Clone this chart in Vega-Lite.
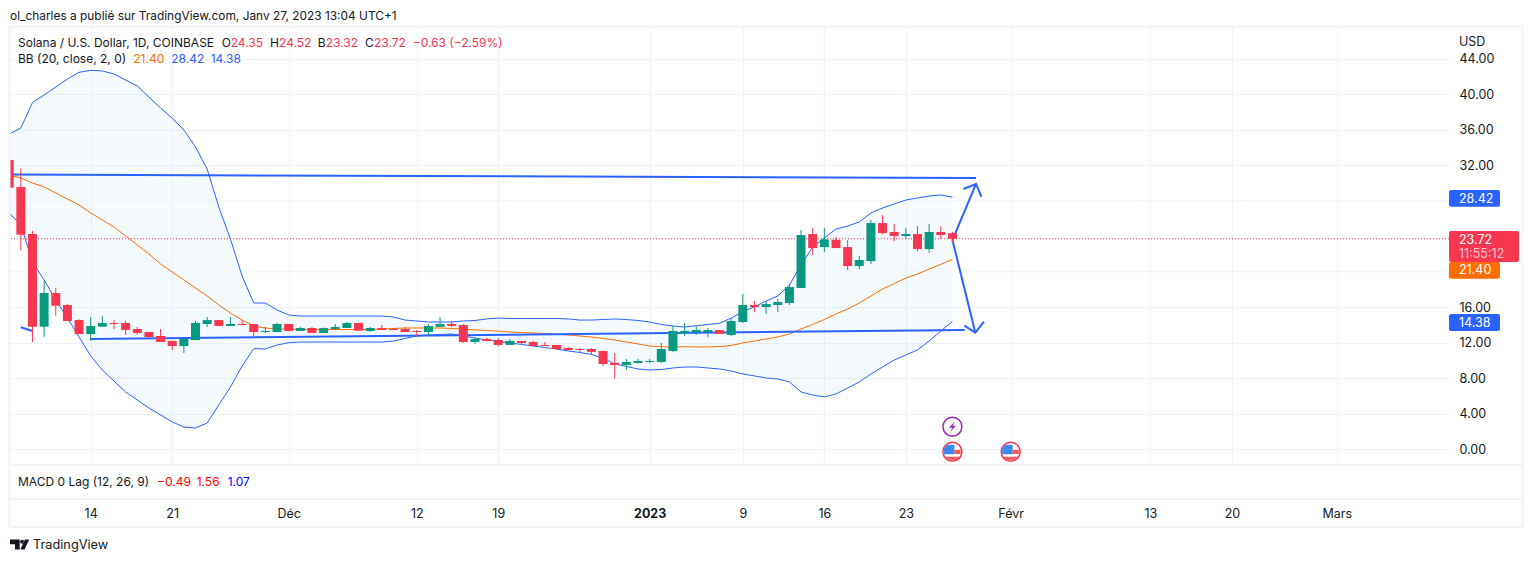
{"$schema":"https://vega.github.io/schema/vega-lite/v6.json","width":1439,"height":438,"autosize":"none","padding":{"left":10,"top":27,"right":84,"bottom":97},"background":"#ffffff",
"config":{"view":{"stroke":null},"text":{"font":"Inter","fontSize":12,"align":"left","baseline":"middle","color":"#131722"},"axis":{"labelFont":"Inter","labelFontSize":12.5,"labelColor":"#131722"}},
"datasets":{"d":[
{"date":"2022-11-07","open":32.6,"high":32.6,"low":29.48,"close":29.48,"upper":35.54,"basis":30.91,"lower":26.63},
{"date":"2022-11-08","open":29.56,"high":31.66,"low":22.45,"close":24.18,"upper":36.22,"basis":30.57,"lower":25.27},
{"date":"2022-11-09","open":24.25,"high":24.59,"low":12.07,"close":13.8,"upper":39.08,"basis":30.01,"lower":21.1},
{"date":"2022-11-10","open":13.8,"high":18.99,"low":12.67,"close":17.6,"upper":39.94,"basis":29.56,"lower":19.07},
{"date":"2022-11-11","open":17.6,"high":18.16,"low":15.04,"close":16.17,"upper":40.84,"basis":28.88,"lower":16.81},
{"date":"2022-11-12","open":16.25,"high":16.36,"low":14.44,"close":14.44,"upper":41.74,"basis":28.21,"lower":14.78},
{"date":"2022-11-13","open":14.55,"high":14.63,"low":12.97,"close":12.97,"upper":42.5,"basis":27.53,"lower":12.64},
{"date":"2022-11-14","open":12.97,"high":14.89,"low":12.19,"close":13.88,"upper":42.72,"basis":26.63,"lower":10.49},
{"date":"2022-11-15","open":13.8,"high":15.0,"low":13.8,"close":14.22,"upper":42.65,"basis":25.84,"lower":8.91},
{"date":"2022-11-16","open":14.22,"high":14.55,"low":13.54,"close":14.1,"upper":42.31,"basis":25.05,"lower":7.67},
{"date":"2022-11-17","open":14.22,"high":14.44,"low":12.86,"close":13.43,"upper":41.63,"basis":24.03,"lower":6.43},
{"date":"2022-11-18","open":13.54,"high":13.76,"low":12.86,"close":13.09,"upper":40.95,"basis":23.02,"lower":5.53},
{"date":"2022-11-19","open":13.2,"high":13.2,"low":12.56,"close":12.64,"upper":39.71,"basis":22.0,"lower":4.63},
{"date":"2022-11-20","open":12.75,"high":13.54,"low":12.07,"close":12.07,"upper":38.47,"basis":20.87,"lower":3.84},
{"date":"2022-11-21","open":12.19,"high":12.19,"low":11.17,"close":11.62,"upper":37.34,"basis":19.97,"lower":3.05},
{"date":"2022-11-22","open":11.62,"high":12.41,"low":10.83,"close":12.41,"upper":35.99,"basis":19.07,"lower":2.48},
{"date":"2022-11-23","open":12.3,"high":14.44,"low":12.3,"close":14.22,"upper":34.07,"basis":18.16,"lower":2.37},
{"date":"2022-11-24","open":14.1,"high":14.89,"low":13.76,"close":14.55,"upper":31.59,"basis":17.26,"lower":2.93},
{"date":"2022-11-25","open":14.55,"high":14.55,"low":13.88,"close":13.88,"upper":27.3,"basis":16.25,"lower":4.96},
{"date":"2022-11-26","open":13.88,"high":14.89,"low":13.88,"close":14.1,"upper":23.69,"basis":15.34,"lower":6.99},
{"date":"2022-11-27","open":14.1,"high":14.55,"low":13.99,"close":13.99,"upper":19.52,"basis":14.55,"lower":9.36},
{"date":"2022-11-28","open":14.1,"high":14.1,"low":12.75,"close":13.2,"upper":16.47,"basis":13.88,"lower":11.32},
{"date":"2022-11-29","open":13.2,"high":13.76,"low":13.09,"close":13.31,"upper":16.47,"basis":13.65,"lower":11.28},
{"date":"2022-11-30","open":13.2,"high":14.22,"low":13.2,"close":14.1,"upper":15.68,"basis":13.54,"lower":11.73},
{"date":"2022-12-01","open":14.1,"high":14.1,"low":13.31,"close":13.31,"upper":15.12,"basis":13.54,"lower":11.99},
{"date":"2022-12-02","open":13.31,"high":13.76,"low":13.31,"close":13.65,"upper":15.0,"basis":13.48,"lower":12.07},
{"date":"2022-12-03","open":13.65,"high":13.76,"low":13.09,"close":13.09,"upper":15.0,"basis":13.48,"lower":12.07},
{"date":"2022-12-04","open":13.09,"high":13.7,"low":13.05,"close":13.65,"upper":15.0,"basis":13.48,"lower":12.07},
{"date":"2022-12-05","open":13.54,"high":14.1,"low":13.43,"close":13.76,"upper":15.0,"basis":13.48,"lower":12.07},
{"date":"2022-12-06","open":13.65,"high":14.33,"low":13.65,"close":14.22,"upper":15.0,"basis":13.48,"lower":12.07},
{"date":"2022-12-07","open":14.22,"high":14.22,"low":13.35,"close":13.35,"upper":15.0,"basis":13.48,"lower":12.07},
{"date":"2022-12-08","open":13.31,"high":13.77,"low":13.2,"close":13.65,"upper":15.0,"basis":13.48,"lower":12.07},
{"date":"2022-12-09","open":13.65,"high":13.99,"low":13.43,"close":13.43,"upper":15.0,"basis":13.54,"lower":12.07},
{"date":"2022-12-10","open":13.54,"high":13.65,"low":13.43,"close":13.43,"upper":14.89,"basis":13.6,"lower":12.18},
{"date":"2022-12-11","open":13.54,"high":13.77,"low":13.2,"close":13.2,"upper":14.55,"basis":13.65,"lower":12.47},
{"date":"2022-12-12","open":13.31,"high":13.43,"low":12.75,"close":13.2,"upper":14.44,"basis":13.65,"lower":12.75},
{"date":"2022-12-13","open":13.2,"high":14.1,"low":12.75,"close":13.88,"upper":14.33,"basis":13.65,"lower":12.86},
{"date":"2022-12-14","open":13.77,"high":14.89,"low":13.77,"close":14.1,"upper":14.33,"basis":13.65,"lower":12.92},
{"date":"2022-12-15","open":14.1,"high":14.44,"low":13.77,"close":13.88,"upper":14.33,"basis":13.6,"lower":12.97},
{"date":"2022-12-16","open":13.99,"high":14.1,"low":11.96,"close":12.07,"upper":14.44,"basis":13.54,"lower":12.75},
{"date":"2022-12-17","open":12.07,"high":12.53,"low":11.85,"close":12.41,"upper":14.5,"basis":13.43,"lower":12.52},
{"date":"2022-12-18","open":12.41,"high":12.53,"low":12.19,"close":12.19,"upper":14.67,"basis":13.37,"lower":12.3},
{"date":"2022-12-19","open":12.3,"high":12.53,"low":11.62,"close":11.74,"upper":14.78,"basis":13.31,"lower":12.11},
{"date":"2022-12-20","open":11.74,"high":12.41,"low":11.74,"close":12.19,"upper":14.72,"basis":13.2,"lower":11.96},
{"date":"2022-12-21","open":12.19,"high":12.19,"low":11.85,"close":11.96,"upper":14.72,"basis":13.14,"lower":11.79},
{"date":"2022-12-22","open":12.07,"high":12.19,"low":11.62,"close":11.62,"upper":14.72,"basis":13.09,"lower":11.62},
{"date":"2022-12-23","open":11.74,"high":12.07,"low":11.62,"close":11.62,"upper":14.72,"basis":13.03,"lower":11.45},
{"date":"2022-12-24","open":11.74,"high":11.74,"low":11.17,"close":11.28,"upper":14.72,"basis":12.97,"lower":11.28},
{"date":"2022-12-25","open":11.4,"high":11.51,"low":11.17,"close":11.17,"upper":14.67,"basis":12.86,"lower":11.06},
{"date":"2022-12-26","open":11.28,"high":11.4,"low":10.95,"close":11.17,"upper":14.55,"basis":12.75,"lower":10.89},
{"date":"2022-12-27","open":11.28,"high":11.4,"low":10.61,"close":10.95,"upper":14.55,"basis":12.64,"lower":10.66},
{"date":"2022-12-28","open":11.06,"high":11.06,"low":9.37,"close":9.59,"upper":14.61,"basis":12.47,"lower":10.27},
{"date":"2022-12-29","open":9.71,"high":10.83,"low":7.9,"close":9.48,"upper":14.67,"basis":12.3,"lower":9.59},
{"date":"2022-12-30","open":9.48,"high":10.16,"low":8.92,"close":9.82,"upper":14.61,"basis":12.07,"lower":9.31},
{"date":"2022-12-31","open":9.71,"high":10.16,"low":9.59,"close":9.93,"upper":14.5,"basis":11.85,"lower":9.03},
{"date":"2023-01-01","open":9.82,"high":10.16,"low":9.71,"close":9.93,"upper":14.33,"basis":11.62,"lower":8.91},
{"date":"2023-01-02","open":9.82,"high":11.96,"low":9.71,"close":11.28,"upper":14.05,"basis":11.54,"lower":8.97},
{"date":"2023-01-03","open":11.05,"high":13.88,"low":10.95,"close":13.31,"upper":13.88,"basis":11.51,"lower":9.14},
{"date":"2023-01-04","open":13.08,"high":14.21,"low":12.75,"close":13.31,"upper":13.76,"basis":11.54,"lower":9.25},
{"date":"2023-01-05","open":13.2,"high":13.87,"low":12.86,"close":13.42,"upper":13.91,"basis":11.51,"lower":9.25},
{"date":"2023-01-06","open":13.2,"high":13.65,"low":12.63,"close":13.42,"upper":14.05,"basis":11.51,"lower":9.14},
{"date":"2023-01-07","open":13.42,"high":13.42,"low":12.97,"close":12.97,"upper":14.18,"basis":11.56,"lower":9.03},
{"date":"2023-01-08","open":12.86,"high":14.78,"low":12.75,"close":14.44,"upper":14.78,"basis":11.68,"lower":8.8},
{"date":"2023-01-09","open":14.33,"high":17.48,"low":14.21,"close":16.24,"upper":15.49,"basis":11.96,"lower":8.46},
{"date":"2023-01-10","open":16.24,"high":16.69,"low":15.45,"close":16.02,"upper":16.05,"basis":12.18,"lower":8.24},
{"date":"2023-01-11","open":16.02,"high":16.69,"low":15.23,"close":16.35,"upper":16.7,"basis":12.41,"lower":8.01},
{"date":"2023-01-12","open":16.24,"high":16.92,"low":15.45,"close":16.58,"upper":17.26,"basis":12.64,"lower":7.9},
{"date":"2023-01-13","open":16.47,"high":18.61,"low":16.24,"close":18.27,"upper":18.5,"basis":12.97,"lower":7.56},
{"date":"2023-01-14","open":18.16,"high":24.7,"low":18.16,"close":24.14,"upper":20.76,"basis":13.54,"lower":6.43},
{"date":"2023-01-15","open":24.25,"high":24.93,"low":21.88,"close":22.67,"upper":22.79,"basis":14.05,"lower":6.09},
{"date":"2023-01-16","open":22.78,"high":24.93,"low":22.22,"close":23.65,"upper":23.81,"basis":14.61,"lower":5.87},
{"date":"2023-01-17","open":23.61,"high":23.91,"low":22.67,"close":22.67,"upper":24.82,"basis":15.23,"lower":6.21},
{"date":"2023-01-18","open":22.78,"high":23.57,"low":20.19,"close":20.64,"upper":25.16,"basis":15.79,"lower":6.88},
{"date":"2023-01-19","open":20.64,"high":21.77,"low":20.3,"close":21.32,"upper":25.61,"basis":16.47,"lower":7.56},
{"date":"2023-01-20","open":21.2,"high":25.83,"low":20.87,"close":25.49,"upper":26.63,"basis":17.26,"lower":8.46},
{"date":"2023-01-21","open":25.49,"high":26.39,"low":24.25,"close":24.36,"upper":27.19,"basis":18.05,"lower":9.25},
{"date":"2023-01-22","open":24.48,"high":25.38,"low":23.46,"close":24.03,"upper":27.64,"basis":18.67,"lower":10.04},
{"date":"2023-01-23","open":24.03,"high":24.93,"low":23.69,"close":24.25,"upper":28.09,"basis":19.29,"lower":10.61},
{"date":"2023-01-24","open":24.25,"high":25.15,"low":22.33,"close":22.56,"upper":28.32,"basis":19.74,"lower":11.17},
{"date":"2023-01-25","open":22.56,"high":25.38,"low":22.11,"close":24.48,"upper":28.54,"basis":20.31,"lower":12.18},
{"date":"2023-01-26","open":24.48,"high":25.15,"low":23.69,"close":24.14,"upper":28.66,"basis":20.82,"lower":13.31},
{"date":"2023-01-27","open":24.35,"high":24.52,"low":23.32,"close":23.72,"upper":28.42,"basis":21.4,"lower":14.38}
],
"drawings":[
{"id":"resistance","i":0,"date":"2022-11-07T02:00:00Z","price":30.96},{"id":"resistance","i":1,"date":"2023-01-29T00:40:00Z","price":30.57},
{"id":"support","i":0,"date":"2022-11-14T00:00:00Z","price":12.41},{"id":"support","i":1,"date":"2023-01-28T01:25:00Z","price":13.43},
{"id":"stub","i":0,"date":"2022-11-08T00:00:00Z","price":13.73},{"id":"stub","i":1,"date":"2022-11-09T00:00:00Z","price":13.31},
{"id":"upShaft","i":0,"date":"2023-01-27T00:00:00Z","price":23.58},{"id":"upShaft","i":1,"date":"2023-01-29T00:40:00Z","price":29.9},
{"id":"upHead","i":0,"date":"2023-01-27T22:30:00Z","price":29.33},{"id":"upHead","i":1,"date":"2023-01-29T00:40:00Z","price":29.9},{"id":"upHead","i":2,"date":"2023-01-29T11:45:00Z","price":28.46},
{"id":"downShaft","i":0,"date":"2023-01-27T00:00:00Z","price":23.58},{"id":"downShaft","i":1,"date":"2023-01-28T23:15:00Z","price":13.12},
{"id":"downHead","i":0,"date":"2023-01-28T00:30:00Z","price":13.91},{"id":"downHead","i":1,"date":"2023-01-28T23:15:00Z","price":13.12},{"id":"downHead","i":2,"date":"2023-01-29T17:00:00Z","price":14.36}
]},
"layer":[
{"data":{"name":"d"},"mark":{"type":"area","color":"#2196f3","opacity":0.05,"clip":true},"encoding":{
 "x":{"field":"date","type":"temporal","title":null,"scale":{"type":"utc","domain":[1667785247000,1678461897000],"nice":false,"padding":0},
  "axis":{"title":null,"orient":"bottom","offset":34,"domain":false,"ticks":false,"grid":true,"gridColor":"#f0f3fa","gridWidth":1,"labelPadding":14,"labelBaseline":"middle","labelOverlap":false,"labelFlush":false,"labelBound":false,
   "values":[1668384000000,1668988800000,1669852800000,1670803200000,1671408000000,1672531200000,1673222400000,1673827200000,1674432000000,1675209600000,1676246400000,1676851200000,1677628800000],
   "labelExpr":"utcdate(datum.value)!=1?utcFormat(datum.value,'%-d'):utcmonth(datum.value)==11?'Déc':utcmonth(datum.value)==0?'2023':utcmonth(datum.value)==1?'Févr':'Mars'",
   "labelFontWeight":{"condition":{"test":"utcmonth(datum.value)==0&&utcdate(datum.value)==1","value":"bold"},"value":"normal"}}},
 "y":{"field":"upper","type":"quantitative","title":null,"scale":{"domain":[-1.805,47.61],"nice":false,"zero":false},
  "axis":{"title":null,"orient":"right","domain":false,"ticks":false,"grid":true,"gridColor":"#f0f3fa","gridWidth":1,"labelPadding":10,"labelAlign":"left","labelOverlap":false,"labelBound":false,"labelFlush":false,
   "values":[0,4,8,12,16,32,36,40,44],"format":".2f"}},
 "y2":{"field":"lower"}}},
{"data":{"values":[{"v":20},{"v":24},{"v":28}]},"mark":{"type":"rule","color":"#f0f3fa","strokeWidth":1},"encoding":{"y":{"field":"v","type":"quantitative"}}},
{"data":{"name":"d"},"mark":{"type":"line","color":"#2962ff","strokeWidth":1,"clip":true},"encoding":{"x":{"field":"date","type":"temporal"},"y":{"field":"upper","type":"quantitative"}}},
{"data":{"name":"d"},"mark":{"type":"line","color":"#2962ff","strokeWidth":1,"clip":true},"encoding":{"x":{"field":"date","type":"temporal"},"y":{"field":"lower","type":"quantitative"}}},
{"data":{"name":"d"},"mark":{"type":"line","color":"#ff6d00","strokeWidth":1,"clip":true},"encoding":{"x":{"field":"date","type":"temporal"},"y":{"field":"basis","type":"quantitative"}}},
{"data":{"values":[{"price":23.72}]},"mark":{"type":"rule","color":"#f7374f","strokeWidth":1,"strokeDash":[1,2]},"encoding":{"y":{"field":"price","type":"quantitative"}}},
{"data":{"name":"drawings"},"mark":{"type":"line","color":"#2962ff","strokeWidth":2,"clip":true},"encoding":{"x":{"field":"date","type":"temporal"},"y":{"field":"price","type":"quantitative"},"detail":{"field":"id"},"order":{"field":"i","type":"quantitative"}}},
{"data":{"name":"d"},"mark":{"type":"rule","strokeWidth":1,"clip":true},"encoding":{"x":{"field":"date","type":"temporal"},"y":{"field":"low","type":"quantitative"},"y2":{"field":"high"},"color":{"condition":{"test":"datum.close>=datum.open","value":"#089981"},"value":"#f7374f"}}},
{"data":{"name":"d"},"mark":{"type":"bar","size":9,"clip":true},"encoding":{"x":{"field":"date","type":"temporal"},"y":{"field":"open","type":"quantitative"},"y2":{"field":"close"},"color":{"condition":{"test":"datum.close>=datum.open","value":"#089981"},"value":"#f7374f"}}},

{"data":{"values":[{"date":"2023-01-27"}]},"mark":{"type":"point","shape":"circle","filled":true,"fill":"#ffffff","stroke":"#9c27b0","strokeWidth":1.5,"size":361,"opacity":1},"encoding":{"x":{"field":"date","type":"temporal"},"y":{"datum":2.52}}},
{"data":{"values":[{"date":"2023-01-27"}]},"mark":{"type":"point","shape":"M0.25,-0.55L-0.35,0.1H-0.02L-0.25,0.55L0.35,-0.1H0.02Z","filled":true,"color":"#9c27b0","size":400,"opacity":1},"encoding":{"x":{"field":"date","type":"temporal"},"y":{"datum":2.52}}},
{"data":{"values":[{"date":"2023-01-27"},{"date":"2023-02-01"}]},"mark":{"type":"point","shape":"circle","filled":true,"fill":"#ffffff","stroke":"#f7374f","strokeWidth":1.5,"size":361,"opacity":1},"encoding":{"x":{"field":"date","type":"temporal"},"y":{"datum":-0.3}}},
{"data":{"values":[{"date":"2023-01-27"},{"date":"2023-02-01"}]},"mark":{"type":"point","shape":"M-0.55,-0.7H0.2V0.27H-0.85V-0.3Z","filled":true,"color":"#3d8bf0","size":400,"opacity":1},"encoding":{"x":{"field":"date","type":"temporal"},"y":{"datum":-0.3}}},
{"data":{"values":[{"date":"2023-01-27"},{"date":"2023-02-01"}]},"mark":{"type":"point","shape":"M0.2,-0.2H0.82V0.23H0.2ZM-0.72,0.5H0.72L0.45,0.8H-0.45Z","filled":true,"color":"#f7585f","size":400,"opacity":1},"encoding":{"x":{"field":"date","type":"temporal"},"y":{"datum":-0.3}}},

{"data":{"values":[{}]},"mark":{"type":"rect","fill":null,"stroke":"#f0f3fa","strokeWidth":2},"encoding":{"x":{"datum":1667781537000,"type":"temporal"},"x2":{"datum":1679007230000},"y":{"datum":47.67},"y2":{"datum":-8.8}}},
{"data":{"values":[{}]},"mark":{"type":"rule","color":"#e6e8f0","strokeWidth":1},"encoding":{"x":{"datum":1667781537000,"type":"temporal"},"x2":{"datum":1679007230000},"y":{"datum":-1.805}}},
{"data":{"values":[{}]},"mark":{"type":"rule","color":"#e6e8f0","strokeWidth":1},"encoding":{"x":{"datum":1667781537000,"type":"temporal"},"x2":{"datum":1679007230000},"y":{"datum":-5.64}}},

{"data":{"values":[{}]},"mark":{"type":"rect","color":"#2962ff","cornerRadius":2,"opacity":1},"encoding":{"x":{"datum":1678461897000,"type":"temporal"},"x2":{"datum":1678840291000},"y":{"datum":29.22},"y2":{"datum":27.34}}},
{"data":{"values":[{}]},"mark":{"type":"rect","color":"#f7374f","cornerRadius":2,"opacity":1},"encoding":{"x":{"datum":1678461897000,"type":"temporal"},"x2":{"datum":1678981262000},"y":{"datum":24.59},"y2":{"datum":21.1}}},
{"data":{"values":[{}]},"mark":{"type":"rect","color":"#ff6d00","cornerRadius":2,"opacity":1},"encoding":{"x":{"datum":1678461897000,"type":"temporal"},"x2":{"datum":1678840291000},"y":{"datum":21.1},"y2":{"datum":19.21}}},
{"data":{"values":[{}]},"mark":{"type":"rect","color":"#2962ff","cornerRadius":2,"opacity":1},"encoding":{"x":{"datum":1678461897000,"type":"temporal"},"x2":{"datum":1678840291000},"y":{"datum":15.23},"y2":{"datum":13.31}}},

{"data":{"values":[{"t":"28.42"}]},"mark":{"type":"text","color":"#ffffff","fontSize":12.5},"encoding":{"x":{"datum":1678536092000,"type":"temporal"},"y":{"datum":28.26},"text":{"field":"t"}}},
{"data":{"values":[{"t":"23.72"}]},"mark":{"type":"text","color":"#ffffff","fontSize":12.5},"encoding":{"x":{"datum":1678536092000,"type":"temporal"},"y":{"datum":23.53},"text":{"field":"t"}}},
{"data":{"values":[{"t":"11:55:12"}]},"mark":{"type":"text","color":"#fbc3ca","fontSize":12.5},"encoding":{"x":{"datum":1678536092000,"type":"temporal"},"y":{"datum":22.03},"text":{"field":"t"}}},
{"data":{"values":[{"t":"21.40"}]},"mark":{"type":"text","color":"#ffffff","fontSize":12.5},"encoding":{"x":{"datum":1678536092000,"type":"temporal"},"y":{"datum":20.19},"text":{"field":"t"}}},
{"data":{"values":[{"t":"14.38"}]},"mark":{"type":"text","color":"#ffffff","fontSize":12.5},"encoding":{"x":{"datum":1678536092000,"type":"temporal"},"y":{"datum":14.25},"text":{"field":"t"}}},
{"data":{"values":[{"t":"USD"}]},"mark":{"type":"text","fontSize":12.5},"encoding":{"x":{"datum":1678536092000,"type":"temporal"},"y":{"datum":45.97},"text":{"field":"t"}}},

{"data":{"values":[{"t":"ol_charles a publié sur TradingView.com, Janv 27, 2023 13:04 UTC+1"}]},"mark":{"type":"text","fontSize":11.9},"encoding":{"x":{"datum":1667785247000,"type":"temporal"},"y":{"datum":48.85},"text":{"field":"t"}}},
{"data":{"values":[{"t":"Solana / U.S. Dollar, 1D, COINBASE"}]},"mark":{"type":"text"},"encoding":{"x":{"datum":1667844603000,"type":"temporal"},"y":{"datum":45.8},"text":{"field":"t"}}},
{"data":{"values":[{"t":"O"}]},"mark":{"type":"text"},"encoding":{"x":{"datum":1669355954000,"type":"temporal"},"y":{"datum":45.8},"text":{"field":"t"}}},
{"data":{"values":[{"t":"24.35"}]},"mark":{"type":"text","color":"#f7374f"},"encoding":{"x":{"datum":1669422729000,"type":"temporal"},"y":{"datum":45.8},"text":{"field":"t"}}},
{"data":{"values":[{"t":"H"}]},"mark":{"type":"text"},"encoding":{"x":{"datum":1669714315000,"type":"temporal"},"y":{"datum":45.8},"text":{"field":"t"}}},
{"data":{"values":[{"t":"24.52"}]},"mark":{"type":"text","color":"#f7374f"},"encoding":{"x":{"datum":1669781091000,"type":"temporal"},"y":{"datum":45.8},"text":{"field":"t"}}},
{"data":{"values":[{"t":"B"}]},"mark":{"type":"text"},"encoding":{"x":{"datum":1670068225000,"type":"temporal"},"y":{"datum":45.8},"text":{"field":"t"}}},
{"data":{"values":[{"t":"23.32"}]},"mark":{"type":"text","color":"#f7374f"},"encoding":{"x":{"datum":1670127581000,"type":"temporal"},"y":{"datum":45.8},"text":{"field":"t"}}},
{"data":{"values":[{"t":"C"}]},"mark":{"type":"text"},"encoding":{"x":{"datum":1670419167000,"type":"temporal"},"y":{"datum":45.8},"text":{"field":"t"}}},
{"data":{"values":[{"t":"23.72"}]},"mark":{"type":"text","color":"#f7374f"},"encoding":{"x":{"datum":1670485942000,"type":"temporal"},"y":{"datum":45.8},"text":{"field":"t"}}},
{"data":{"values":[{"t":"−0.63 (−2.59%)"}]},"mark":{"type":"text","color":"#f7374f"},"encoding":{"x":{"datum":1670773077000,"type":"temporal"},"y":{"datum":45.8},"text":{"field":"t"}}},
{"data":{"values":[{"t":"BB (20, close, 2, 0)"}]},"mark":{"type":"text"},"encoding":{"x":{"datum":1667844603000,"type":"temporal"},"y":{"datum":44.0},"text":{"field":"t"}}},
{"data":{"values":[{"t":"21.40"}]},"mark":{"type":"text","color":"#ff6d00"},"encoding":{"x":{"datum":1668700070000,"type":"temporal"},"y":{"datum":44.0},"text":{"field":"t"}}},
{"data":{"values":[{"t":"28.42"}]},"mark":{"type":"text","color":"#2962ff"},"encoding":{"x":{"datum":1668982011000,"type":"temporal"},"y":{"datum":44.0},"text":{"field":"t"}}},
{"data":{"values":[{"t":"14.38"}]},"mark":{"type":"text","color":"#2962ff"},"encoding":{"x":{"datum":1669274339000,"type":"temporal"},"y":{"datum":44.0},"text":{"field":"t"}}},
{"data":{"values":[{"t":"MACD 0 Lag (12, 26, 9)"}]},"mark":{"type":"text"},"encoding":{"x":{"datum":1667844603000,"type":"temporal"},"y":{"datum":-3.67},"text":{"field":"t"}}},
{"data":{"values":[{"t":"−0.49"}]},"mark":{"type":"text","color":"#ff0000"},"encoding":{"x":{"datum":1668875912000,"type":"temporal"},"y":{"datum":-3.67},"text":{"field":"t"}}},
{"data":{"values":[{"t":"1.56"}]},"mark":{"type":"text","color":"#ff0000"},"encoding":{"x":{"datum":1669170466000,"type":"temporal"},"y":{"datum":-3.67},"text":{"field":"t"}}},
{"data":{"values":[{"t":"1.07"}]},"mark":{"type":"text","color":"#0000ff"},"encoding":{"x":{"datum":1669400471000,"type":"temporal"},"y":{"datum":-3.67},"text":{"field":"t"}}},
{"data":{"values":[{"t":"TradingView"}]},"mark":{"type":"text","fontSize":12.75},"encoding":{"x":{"datum":1667955895000,"type":"temporal"},"y":{"datum":-10.83},"text":{"field":"t"}}},
{"data":{"values":[{}]},"mark":{"type":"point","shape":"M-0.95,-0.5H0.02V0.5H-0.45V-0.02H-0.95ZM0.97,-0.5L0.5,0.5H0.08L0.55,-0.5ZM0.06,-0.28a0.2,0.2 0 1,0 0.4,0a0.2,0.2 0 1,0 -0.4,0Z","filled":true,"color":"#131722","size":400,"opacity":1},"encoding":{"x":{"datum":1667855732000,"type":"temporal"},"y":{"datum":-10.77}}}
]}
